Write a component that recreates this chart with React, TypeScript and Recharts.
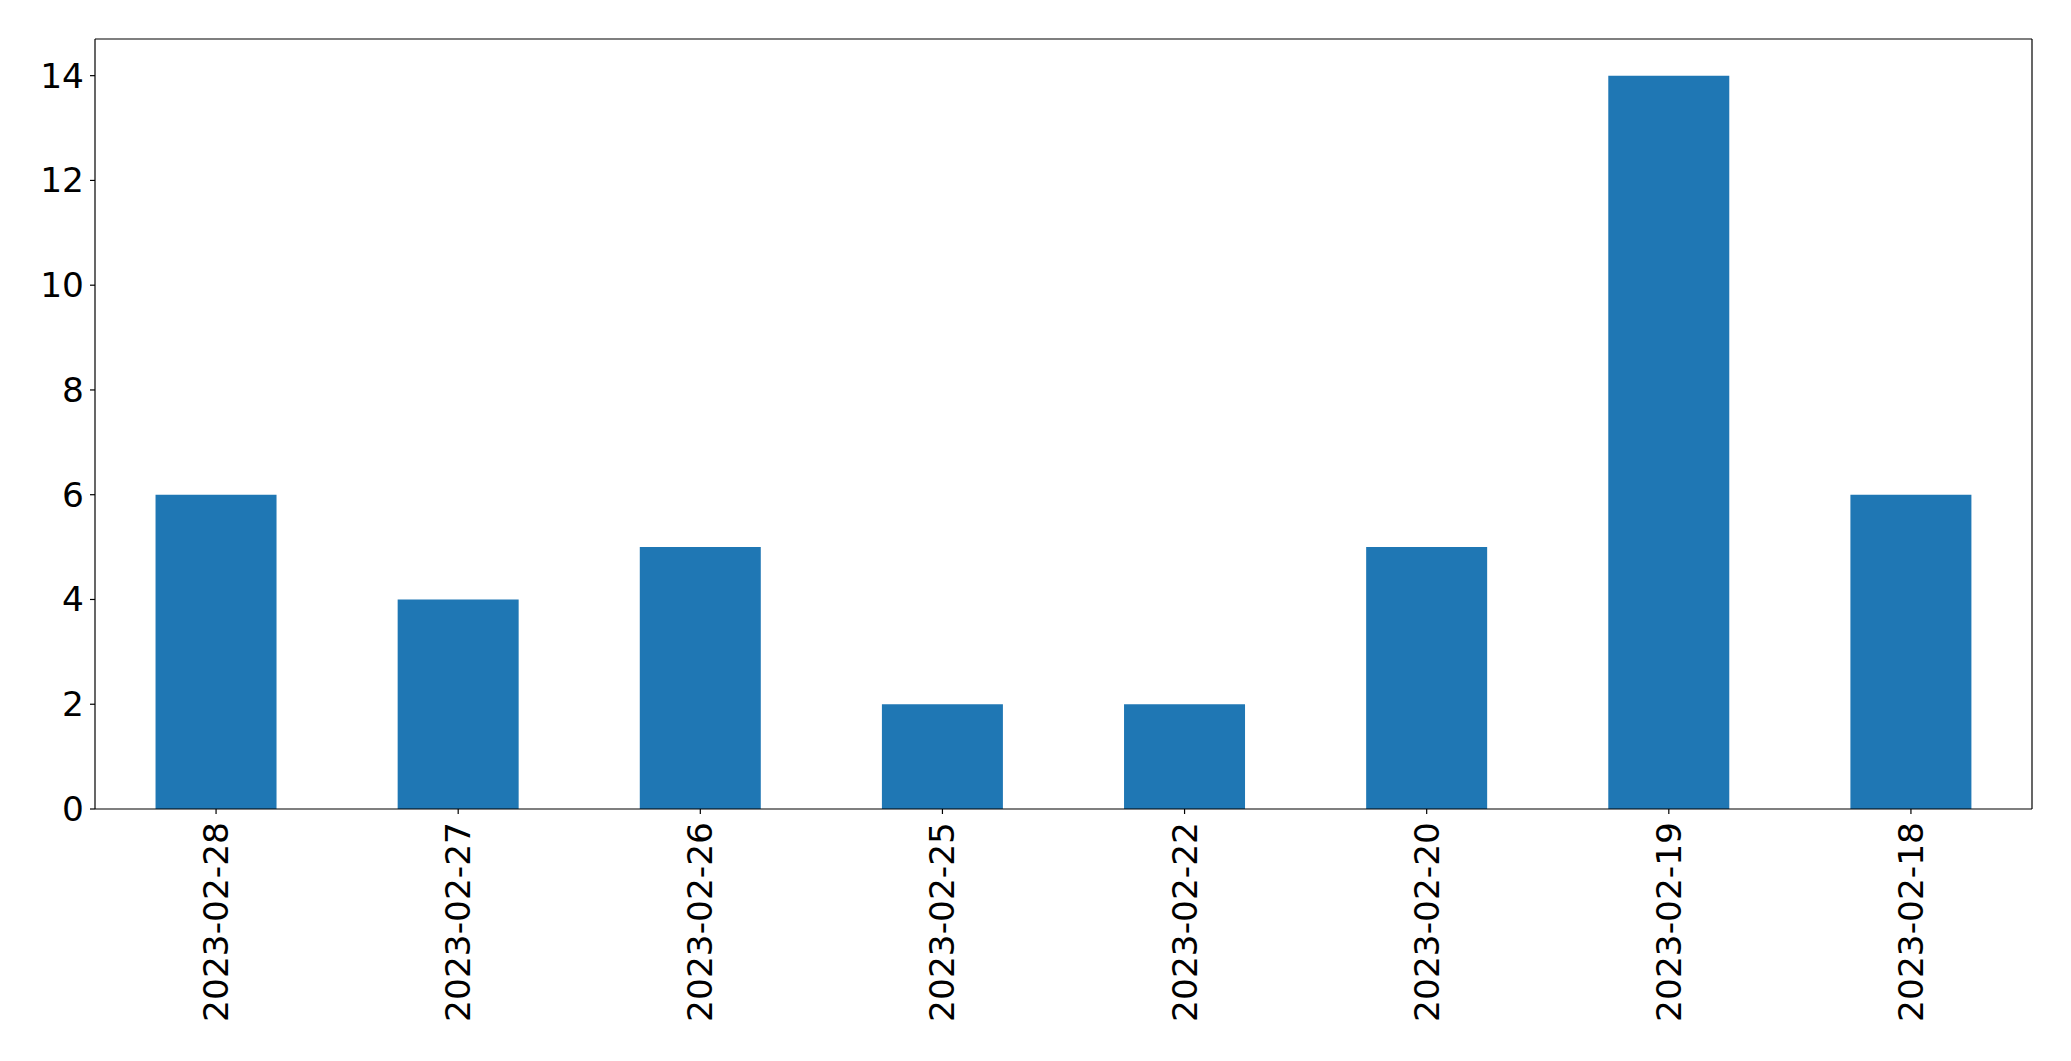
import React from "react";
import { BarChart, Bar, XAxis, YAxis } from "recharts";

const dates = [
  "2023-02-28",
  "2023-02-27",
  "2023-02-26",
  "2023-02-25",
  "2023-02-22",
  "2023-02-20",
  "2023-02-19",
  "2023-02-18",
];
const counts = [6, 4, 5, 2, 2, 5, 14, 6];
const yTicks = [0, 2, 4, 6, 8, 10, 12, 14];

const data = dates.map((d, i) => ({ date: d, count: counts[i] }));

const FONT = "DejaVu Sans, Verdana, sans-serif";
const FS = 34.4;

const XTick = (props: any) => {
  const { x, y, payload } = props;
  return (
    <text
      transform={`translate(${x},${y}) rotate(-90)`}
      textAnchor="end"
      dominantBaseline="central"
      fontFamily={FONT}
      fontSize={FS}
      fill="#000"
    >
      {payload.value}
    </text>
  );
};

const YTick = (props: any) => {
  const { x, y, payload } = props;
  return (
    <text
      x={x}
      y={y}
      textAnchor="end"
      dominantBaseline="central"
      fontFamily={FONT}
      fontSize={FS}
      fill="#000"
    >
      {payload.value}
    </text>
  );
};

export default function App() {
  return (
    <div style={{ position: "absolute", left: 0, top: 0, width: 2071, height: 1061, background: "#fff" }}>
      <BarChart
        width={2071}
        height={1061}
        data={data}
        margin={{ top: 38, right: 38, bottom: 0, left: 0 }}
        barCategoryGap="25%"
      >
        <XAxis
          dataKey="date"
          xAxisId="main"
          interval={0}
          height={252}
          tick={<XTick />}
          tickSize={5}
          tickMargin={8}
          axisLine={{ stroke: "#000", strokeWidth: 1.2 }}
          tickLine={{ stroke: "#000", strokeWidth: 1.2 }}
        />
        <XAxis
          dataKey="date"
          xAxisId="top"
          orientation="top"
          height={1}
          tick={false}
          tickLine={false}
          axisLine={{ stroke: "#000", strokeWidth: 1.2 }}
        />
        <YAxis
          yAxisId="main"
          width={95}
          domain={[0, 14.7]}
          ticks={yTicks}
          tick={<YTick />}
          tickSize={5}
          tickMargin={6}
          allowDataOverflow
          axisLine={{ stroke: "#000", strokeWidth: 1.2 }}
          tickLine={{ stroke: "#000", strokeWidth: 1.2 }}
        />
        <YAxis
          yAxisId="right"
          orientation="right"
          width={1}
          domain={[0, 14.7]}
          tick={false}
          tickLine={false}
          axisLine={{ stroke: "#000", strokeWidth: 1.2 }}
        />
        <Bar
          dataKey="count"
          xAxisId="main"
          yAxisId="main"
          fill="#1f77b4"
          isAnimationActive={false}
        />
      </BarChart>
    </div>
  );
}
